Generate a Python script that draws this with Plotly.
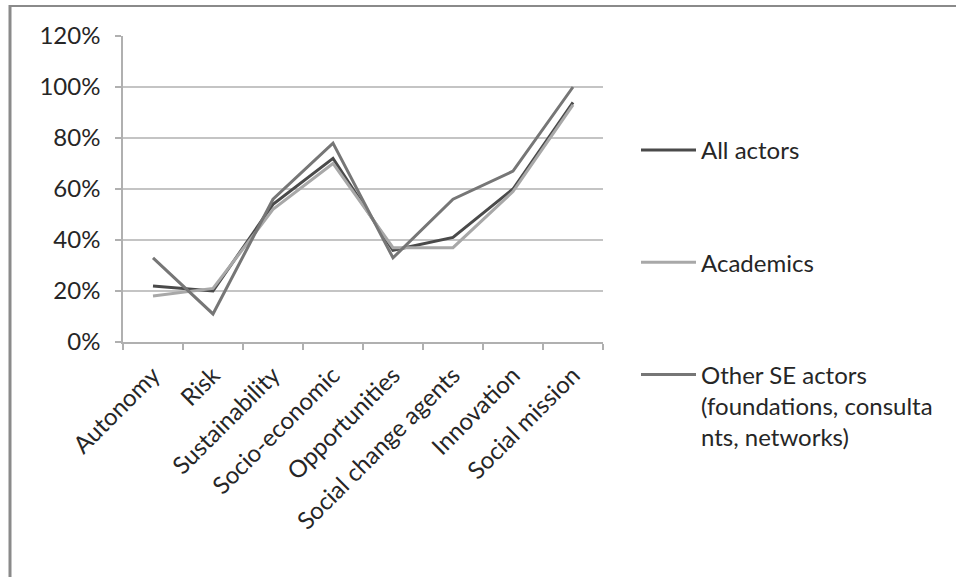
import plotly.graph_objects as go

categories = ["Autonomy", "Risk", "Sustainability", "Socio-economic",
              "Opportunities", "Social change agents", "Innovation", "Social mission"]
all_actors = [0.22, 0.20, 0.54, 0.72, 0.36, 0.41, 0.60, 0.94]
academics = [0.18, 0.21, 0.52, 0.70, 0.37, 0.37, 0.59, 0.93]
other_se = [0.33, 0.11, 0.56, 0.78, 0.33, 0.56, 0.67, 1.00]
series_names = ["All actors", "Academics",
                "Other SE actors<br>(foundations, consulta<br>nts, networks)"]
y_ticks = [0, 0.2, 0.4, 0.6, 0.8, 1.0, 1.2]

FONT = "Lato"
FS = 24
TXT = "#262626"
colors = ["#4a4a4a", "#a8a8a8", "#767676"]

fig = go.Figure()
for i, (name, vals) in enumerate(zip(series_names, [all_actors, academics, other_se])):
    fig.add_trace(go.Scatter(
        x=categories, y=vals, mode="lines", name=name,
        legendgroup=f"g{i}",
        line=dict(color=colors[i], width=3),
    ))

W, H = 956, 577
L, R, T, B = 123, 353, 36, 235
pw, ph = W - L - R, H - T - B

def px_x(x):
    return (x - L) / pw

def px_y(y):
    return (H - B - y) / ph

fig.update_layout(
    width=W, height=H,
    margin=dict(l=L, r=R, t=T, b=B, autoexpand=False),
    paper_bgcolor="white", plot_bgcolor="white",
    font=dict(family=FONT, size=FS, color=TXT),
    showlegend=True,
    legend=dict(
        x=px_x(636), y=px_y(128), xanchor="left", yanchor="top",
        xref="paper", yref="paper",
        font=dict(family=FONT, size=FS, color=TXT),
        tracegroupgap=78, itemwidth=55, valign="top",
        maxheight=560,
        bgcolor="rgba(0,0,0,0)", borderwidth=0,
    ),
    xaxis=dict(
        type="category", tickangle=-45, tickson="boundaries",
        ticks="outside", ticklen=6, tickcolor="#b0b0b0", tickwidth=1.5,
        ticklabelstandoff=8,
        showline=True, linecolor="#b0b0b0", linewidth=1.5,
        showgrid=False, automargin=False,
        tickfont=dict(family=FONT, size=FS, color=TXT),
        range=[-0.5, 7.5],
    ),
    yaxis=dict(
        range=[0, 1.2], tickvals=y_ticks, tickformat=".0%",
        ticks="outside", ticklen=6, tickcolor="#b0b0b0", tickwidth=1.5,
        ticklabelstandoff=10,
        showline=True, linecolor="#b0b0b0", linewidth=1.5,
        showgrid=True, gridcolor="#c4c4c4", gridwidth=1.5,
        zeroline=False, automargin=False,
        tickfont=dict(family=FONT, size=FS, color=TXT),
    ),
    shapes=[
        dict(type="line", xref="paper", yref="paper",
             x0=px_x(10), x1=px_x(10), y0=px_y(5), y1=px_y(577),
             line=dict(color="#8a8a8a", width=3)),
        dict(type="line", xref="paper", yref="paper",
             x0=px_x(9), x1=px_x(956), y0=px_y(6), y1=px_y(6),
             line=dict(color="#8a8a8a", width=2)),
    ],
)

fig.write_html("out.html")
